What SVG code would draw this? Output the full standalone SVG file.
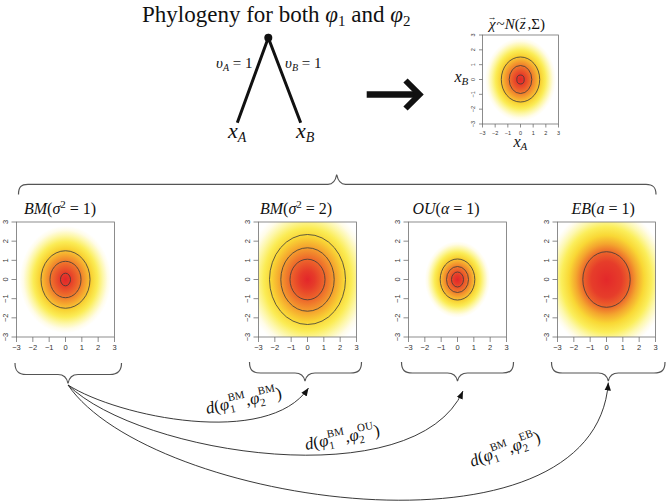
<svg xmlns="http://www.w3.org/2000/svg" width="667" height="502" viewBox="0 0 667 502">
<style>
.ax{stroke:#707070;stroke-width:0.8;fill:none}
.tk{font-family:"Liberation Sans",Arial,sans-serif;font-size:7.5px;fill:#333;text-anchor:middle}
.tks{font-family:"Liberation Sans",Arial,sans-serif;font-size:5.5px;fill:#333;text-anchor:middle}
.ct{fill:none;stroke:#3a3a3a;stroke-width:0.8}
.m{font-family:"Liberation Serif","DejaVu Serif",serif;font-style:italic;fill:#111}
.up{font-style:normal}
.t{font-family:"Liberation Serif","DejaVu Serif",serif;fill:#111}
.br{fill:none;stroke:#555;stroke-width:1.2}
.cv{fill:none;stroke:#222;stroke-width:0.9;marker-end:url(#ah)}
</style>
<defs>
<radialGradient id="heat" cx="0.5" cy="0.5" r="0.467">
<stop offset="0" stop-color="#e3262a"/>
<stop offset="0.12" stop-color="#e63b29"/>
<stop offset="0.3" stop-color="#ee6e2b"/>
<stop offset="0.45" stop-color="#f5a52e"/>
<stop offset="0.58" stop-color="#f9d535"/>
<stop offset="0.7" stop-color="#fbec55"/>
<stop offset="0.82" stop-color="#fdf7a8"/>
<stop offset="0.92" stop-color="#fffce8"/>
<stop offset="1" stop-color="#ffffff"/>
</radialGradient>
<radialGradient id="heat2" href="#heat" r="0.64"/>
<radialGradient id="heat3" href="#heat" r="0.333"/>
<radialGradient id="heat4" cx="0.5" cy="0.5" r="0.62">
<stop offset="0" stop-color="#e3282a"/>
<stop offset="0.25" stop-color="#e63d2a"/>
<stop offset="0.38" stop-color="#ec632b"/>
<stop offset="0.5" stop-color="#f4a52e"/>
<stop offset="0.62" stop-color="#f9d835"/>
<stop offset="0.74" stop-color="#fbee5a"/>
<stop offset="0.85" stop-color="#fdf8b0"/>
<stop offset="0.94" stop-color="#fffce8"/>
<stop offset="1" stop-color="#ffffff"/>
</radialGradient>
<marker id="ah" viewBox="0 0 10 8" refX="10" refY="4" markerWidth="8" markerHeight="8" markerUnits="userSpaceOnUse" orient="auto">
<path d="M0,0 L10,4 L0,8 z" fill="#111"/>
</marker>
<g id="axes">
<rect class="ax" x="0" y="0" width="98" height="115"/>
<path class="ax" d="M0,115v5M16.33,115v5M32.67,115v5M49,115v5M65.33,115v5M81.67,115v5M98,115v5M0,0h-5M0,19.17h-5M0,38.33h-5M0,57.5h-5M0,76.67h-5M0,95.83h-5M0,115h-5"/>
<text class="tk" y="128"><tspan x="0">−3</tspan><tspan x="16.33">−2</tspan><tspan x="32.67">−1</tspan><tspan x="49">0</tspan><tspan x="65.33">1</tspan><tspan x="81.67">2</tspan><tspan x="98">3</tspan></text>
<text class="tk" transform="translate(-9,0) rotate(-90)">3</text>
<text class="tk" transform="translate(-9,19.17) rotate(-90)">2</text>
<text class="tk" transform="translate(-9,38.33) rotate(-90)">1</text>
<text class="tk" transform="translate(-9,57.5) rotate(-90)">0</text>
<text class="tk" transform="translate(-9,76.67) rotate(-90)">−1</text>
<text class="tk" transform="translate(-9,95.83) rotate(-90)">−2</text>
<text class="tk" transform="translate(-9,115) rotate(-90)">−3</text>
</g>
<g id="axesSmall">
<rect class="ax" x="0" y="0" width="76" height="89"/>
<path class="ax" d="M0,89v3.5M12.67,89v3.5M25.33,89v3.5M38,89v3.5M50.67,89v3.5M63.33,89v3.5M76,89v3.5M0,0h-3.5M0,14.83h-3.5M0,29.67h-3.5M0,44.5h-3.5M0,59.33h-3.5M0,74.17h-3.5M0,89h-3.5"/>
<text class="tks" y="100"><tspan x="0">−3</tspan><tspan x="12.67">−2</tspan><tspan x="25.33">−1</tspan><tspan x="38">0</tspan><tspan x="50.67">1</tspan><tspan x="63.33">2</tspan><tspan x="76">3</tspan></text>
<text class="tks" transform="translate(-7.5,0) rotate(-90)">3</text>
<text class="tks" transform="translate(-7.5,14.83) rotate(-90)">2</text>
<text class="tks" transform="translate(-7.5,29.67) rotate(-90)">1</text>
<text class="tks" transform="translate(-7.5,44.5) rotate(-90)">0</text>
<text class="tks" transform="translate(-7.5,59.33) rotate(-90)">−1</text>
<text class="tks" transform="translate(-7.5,74.17) rotate(-90)">−2</text>
<text class="tks" transform="translate(-7.5,89) rotate(-90)">−3</text>
</g>
</defs>
<rect width="667" height="502" fill="#ffffff"/>

<text id="title" class="t" x="142" y="22" font-size="23">Phylogeny for both <tspan class="m">φ</tspan><tspan font-size="15" dy="4">1</tspan><tspan dy="-4"> and </tspan><tspan class="m">φ</tspan><tspan font-size="15" dy="4">2</tspan></text>

<g id="tree">
<path d="M237.3,122.7 L268.3,37.7 L300.7,122.7" fill="none" stroke="#111" stroke-width="3"/>
<circle cx="268.3" cy="37.7" r="4" fill="#111"/>
<text class="m" x="216" y="68" font-size="15">υ<tspan font-size="10" dy="3">A</tspan><tspan class="up" dy="-3"> = 1</tspan></text>
<text class="m" x="285" y="68" font-size="15">υ<tspan font-size="10" dy="3">B</tspan><tspan class="up" dy="-3"> = 1</tspan></text>
<text class="m" x="228" y="138" font-size="22">x<tspan font-size="14" dy="4">A</tspan></text>
<text class="m" x="296" y="138" font-size="22">x<tspan font-size="14" dy="4">B</tspan></text>
</g>

<g id="big-arrow">
<path d="M366.7,94.5 H416" stroke="#111" stroke-width="6.5" fill="none"/>
<path d="M405.5,80.5 L419.5,94.5 L405.5,108.5" stroke="#111" stroke-width="6" fill="none"/>
</g>

<g id="plot-mvn" transform="translate(482.5,35)">
<rect x="0" y="0" width="76" height="89" fill="url(#heat)"/>
<ellipse class="ct" cx="38" cy="44.5" rx="19.2" ry="22.5"/>
<ellipse class="ct" cx="38" cy="44.5" rx="11.3" ry="14"/>
<ellipse class="ct" cx="38" cy="44.5" rx="3.7" ry="4.5"/>
<use href="#axesSmall"/>
<text class="m" x="5" y="-6" font-size="15">χ<tspan class="up" font-size="9" dx="-8" dy="-9">→</tspan><tspan class="up" dy="9">~</tspan>N<tspan class="up">(</tspan>z<tspan class="up" font-size="9" dx="-7" dy="-9">→</tspan><tspan class="up" dy="9">,Σ)</tspan></text>
<text class="m" x="31" y="111.5" font-size="16">x<tspan font-size="11" dy="3">A</tspan></text>
<text class="m" x="-28" y="47" font-size="16">x<tspan font-size="11" dy="3">B</tspan></text>
</g>

<g id="brace-top">
<path class="br" d="M18.5,194.5 C18.5,187 21,184.3 28,184.3 L328,184.3 C333,184.3 335.5,181 336.7,174.5 C338,181 340.5,184.3 345.5,184.3 L646,184.3 C653,184.3 656,187 656,194.5"/>
</g>

<g id="plot-bm1" transform="translate(16.5,222)">
<rect x="0" y="0" width="98" height="115" fill="url(#heat)"/>
<ellipse class="ct" cx="49" cy="57.5" rx="24.5" ry="28.75"/>
<ellipse class="ct" cx="49" cy="57.5" rx="15.5" ry="18.2"/>
<ellipse class="ct" cx="49" cy="57.5" rx="5" ry="6.3"/>
<use href="#axes"/>
<text class="m" x="7.5" y="-8" font-size="16">BM<tspan class="up">(</tspan>σ<tspan class="up" font-size="11" dy="-6">2</tspan><tspan class="up" dy="6"> = 1)</tspan></text>
</g>

<g id="plot-bm2" transform="translate(258.5,222)">
<rect x="0" y="0" width="98" height="115" fill="url(#heat2)"/>
<ellipse class="ct" cx="49" cy="57.5" rx="38" ry="45"/>
<ellipse class="ct" cx="49" cy="57.5" rx="26.7" ry="31.7"/>
<ellipse class="ct" cx="49" cy="57.5" rx="17.5" ry="20.3"/>
<use href="#axes"/>
<text class="m" x="1.5" y="-8" font-size="16">BM<tspan class="up">(</tspan>σ<tspan class="up" font-size="11" dy="-6">2</tspan><tspan class="up" dy="6"> = 2)</tspan></text>
</g>

<g id="plot-ou" transform="translate(408.5,222)">
<rect x="0" y="0" width="98" height="115" fill="url(#heat3)"/>
<ellipse class="ct" cx="49" cy="57.5" rx="17.3" ry="20.5"/>
<ellipse class="ct" cx="49" cy="57.5" rx="11" ry="13"/>
<ellipse class="ct" cx="49" cy="57.5" rx="6" ry="7.5"/>
<use href="#axes"/>
<text class="m" x="4" y="-8" font-size="16">OU<tspan class="up">(</tspan>α<tspan class="up"> = 1)</tspan></text>
</g>

<g id="plot-eb" transform="translate(557.5,222)">
<rect x="0" y="0" width="98" height="115" fill="url(#heat4)"/>
<ellipse class="ct" cx="49" cy="57.5" rx="23.7" ry="27.8"/>
<use href="#axes"/>
<text class="m" x="14" y="-8" font-size="16">EB<tspan class="up">(</tspan>a<tspan class="up"> = 1)</tspan></text>
</g>

<g id="braces-bottom">
<path class="br" d="M15,363 C15,371 18,374.5 26,374.5 L58,374.5 C64,374.5 67,378 68,383.5 C69,378 72,374.5 78,374.5 L110,374.5 C118,374.5 121.5,371 121.5,363"/>
<path class="br" d="M249.5,362 C249.5,370 252.5,373 260.5,373 L295,373 C301,373 304,376.5 305,381 C306,376.5 309,373 315,373 L350.5,373 C358.5,373 361.5,370 361.5,362"/>
<path class="br" d="M401.5,362 C401.5,370 404.5,373 412.5,373 L447.5,373 C453.5,373 456.5,376.5 457.5,381 C458.5,376.5 461.5,373 467.5,373 L502.5,373 C510.5,373 513.5,370 513.5,362"/>
<path class="br" d="M551.5,362 C551.5,370 554.5,373 562.5,373 L598.3,373 C604.3,373 607.3,376.5 608.3,381 C609.3,376.5 612.3,373 618.3,373 L654,373 C662,373 665,370 665,362"/>
</g>

<g id="connectors">
<path class="cv" d="M68,385 C118,417 268,448 308.5,388"/>
<path class="cv" d="M68,385 C140,455 415,497 463,391"/>
<path class="cv" d="M68,385 C150,505 595,570 608.3,382.5"/>
</g>

<g id="connector-labels">
<text class="m" font-size="17" transform="translate(207,414) rotate(-12)">d<tspan class="up">(</tspan>φ<tspan class="up" font-size="11" dy="4">1</tspan><tspan class="up" font-size="11" dx="-5.5" dy="-12">BM</tspan><tspan class="up" dy="8">,</tspan>φ<tspan class="up" font-size="11" dy="4">2</tspan><tspan class="up" font-size="11" dx="-5.5" dy="-12">BM</tspan><tspan class="up" dy="8">)</tspan></text>
<text class="m" font-size="17" transform="translate(306,450) rotate(-11)">d<tspan class="up">(</tspan>φ<tspan class="up" font-size="11" dy="4">1</tspan><tspan class="up" font-size="11" dx="-5.5" dy="-12">BM</tspan><tspan class="up" dy="8">,</tspan>φ<tspan class="up" font-size="11" dy="4">2</tspan><tspan class="up" font-size="11" dx="-5.5" dy="-12">OU</tspan><tspan class="up" dy="8">)</tspan></text>
<text class="m" font-size="17" transform="translate(472,467) rotate(-20)">d<tspan class="up">(</tspan>φ<tspan class="up" font-size="11" dy="4">1</tspan><tspan class="up" font-size="11" dx="-5.5" dy="-12">BM</tspan><tspan class="up" dy="8">,</tspan>φ<tspan class="up" font-size="11" dy="4">2</tspan><tspan class="up" font-size="11" dx="-5.5" dy="-12">EB</tspan><tspan class="up" dy="8">)</tspan></text>
</g>
</svg>
